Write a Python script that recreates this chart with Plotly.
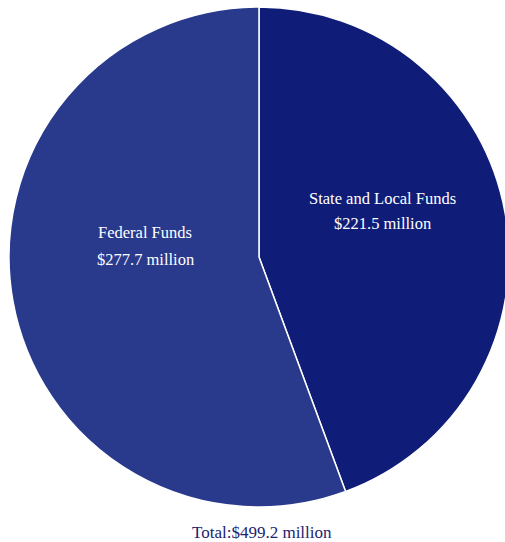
import plotly.graph_objects as go

labels = ["State and Local Funds", "Federal Funds"]
values = [221.5, 277.7]
value_text = ["$221.5 million", "$277.7 million"]
colors = ["#0f1d79", "#29398c"]
total_text = "Total:$499.2 million"

W, H = 518, 542

fig = go.Figure(go.Pie(
    labels=labels, values=values, sort=False, direction="clockwise", rotation=0,
    marker=dict(colors=colors, line=dict(color="white", width=1.5)),
    textinfo="none", hoverinfo="label+value", showlegend=False,
    domain=dict(x=[9 / W, 509 / W], y=[35 / H, 535 / H]),
))

def px(x, y):
    return x / W, (H - y) / H

font = dict(family="Liberation Serif", size=16.5, color="white")
ann = []
for (x, y), t in [((382, 198), labels[0]), ((382, 223), value_text[0]),
                  ((145, 233), labels[1]), ((145, 259), value_text[1])]:
    ax, ay = px(x, y)
    ann.append(dict(x=ax, y=ay, xref="paper", yref="paper", text=t, showarrow=False,
                    font=font, xanchor="center", yanchor="middle"))
ax, ay = px(262, 532)
ann.append(dict(x=ax, y=ay, xref="paper", yref="paper", text=total_text, showarrow=False,
                font=dict(family="Liberation Serif", size=17, color="#1a2470"),
                xanchor="center", yanchor="middle"))

fig.update_layout(width=W, height=H, margin=dict(l=0, r=0, t=0, b=0),
                  paper_bgcolor="white", plot_bgcolor="white", annotations=ann)

fig.write_html("out.html", post_script="document.body.style.overflow='hidden';document.documentElement.style.overflow='hidden';")
